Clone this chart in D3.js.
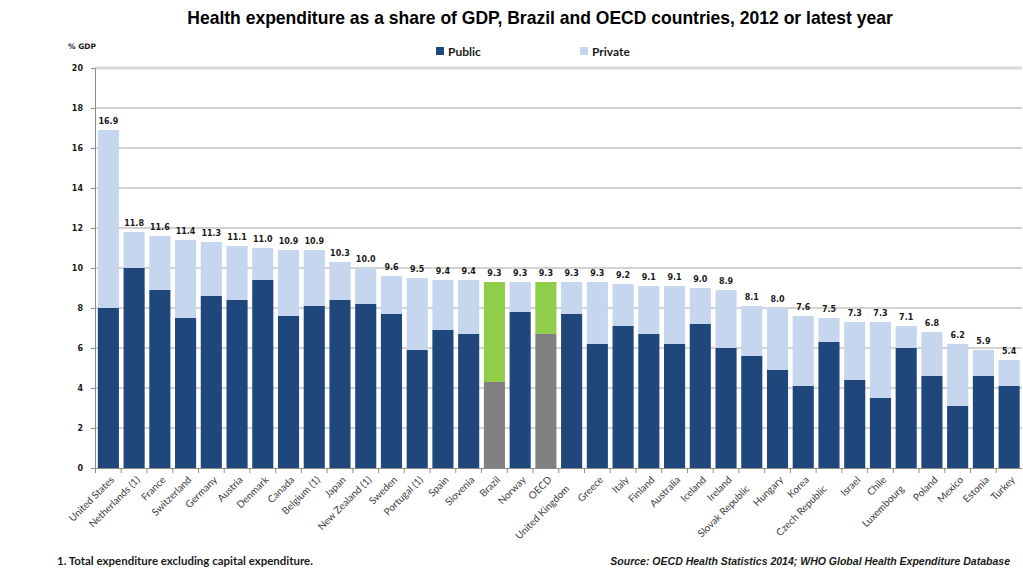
<!DOCTYPE html>
<html><head><meta charset="utf-8">
<script src="https://cdn.jsdelivr.net/npm/d3@7"></script>
<style>body{margin:0;background:#fff}svg{display:block}</style>
</head><body><svg id="c" width="1023" height="575"></svg>
<script>
const countries = ["United States","Netherlands (1)","France","Switzerland","Germany","Austria","Denmark","Canada","Belgium (1)","Japan","New Zealand (1)","Sweden","Portugal (1)","Spain","Slovenia","Brazil","Norway","OECD","United Kingdom","Greece","Italy","Finland","Australia","Iceland","Ireland","Slovak Republic","Hungary","Korea","Czech Republic","Israel","Chile","Luxembourg","Poland","Mexico","Estonia","Turkey"];
const totalValues = [16.9,11.8,11.6,11.4,11.3,11.1,11.0,10.9,10.9,10.3,10.0,9.6,9.5,9.4,9.4,9.3,9.3,9.3,9.3,9.3,9.2,9.1,9.1,9.0,8.9,8.1,8.0,7.6,7.5,7.3,7.3,7.1,6.8,6.2,5.9,5.4];
const publicValues = [8.0,10.0,8.9,7.5,8.6,8.4,9.4,7.6,8.1,8.4,8.2,7.7,5.9,6.9,6.7,4.3,7.8,6.7,7.7,6.2,7.1,6.7,6.2,7.2,6.0,5.6,4.9,4.1,6.3,4.4,3.5,6.0,4.6,3.1,4.6,4.1];
const highlighted = ["Brazil","OECD"];
const loweredLabels = ["United Kingdom","Slovak Republic","Czech Republic","Luxembourg"];
const yTicks = [0,2,4,6,8,10,12,14,16,18,20];
const seriesNames = ["Public","Private"];

const colors = {pub:"#1f477b", priv:"#c5d6ee", hpub:"#808080", hpriv:"#8fcd4a"};
const svg = d3.select("#c");
const x = d3.scaleBand().domain(countries).range([95.5,1022]).paddingInner(0.18).paddingOuter(0.09);
const y = d3.scaleLinear().domain([0,20]).range([468,68]);

function fitWidth(sel, size, target){
  const w = sel.node().getComputedTextLength();
  sel.attr("font-size",(size*target/w)+"px");
}

// gridlines
svg.append("g").selectAll("line").data(yTicks.filter(d=>d>0)).join("line")
  .attr("x1",95).attr("x2",1022).attr("y1",d=>y(d)).attr("y2",d=>y(d))
  .attr("stroke",d=>d===20?"#d9d9d9":"#a6a6a6").attr("stroke-width",d=>d===20?3:1);

// y axis
const ya = svg.append("g").attr("transform","translate(95,0)")
  .call(d3.axisLeft(y).tickValues(yTicks).tickSize(4).tickPadding(8));
ya.select(".domain").attr("stroke","#8c8c8c");
ya.selectAll(".tick line").attr("stroke","#8c8c8c");
ya.selectAll("text").attr("font-family","DejaVu Sans").attr("font-weight","bold").attr("font-size","8px").attr("fill","#1a1a1a");

const data = countries.map((c,i)=>({c, tot: totalValues[i], pub: publicValues[i], hl: highlighted.includes(c)}));

// bars
const g = svg.append("g");
g.selectAll("rect.priv").data(data).join("rect").attr("class","priv")
  .attr("x",d=>x(d.c)).attr("width",x.bandwidth())
  .attr("y",d=>y(d.tot)).attr("height",d=>y(d.pub)-y(d.tot))
  .attr("fill",d=>d.hl?colors.hpriv:colors.priv);
g.selectAll("rect.pub").data(data).join("rect").attr("class","pub")
  .attr("x",d=>x(d.c)).attr("width",x.bandwidth())
  .attr("y",d=>y(d.pub)).attr("height",d=>y(0)-y(d.pub))
  .attr("fill",d=>d.hl?colors.hpub:colors.pub);

// value labels
g.selectAll("text.val").data(data).join("text").attr("class","val")
  .attr("x",d=>x(d.c)+x.bandwidth()/2).attr("y",d=>y(d.tot)-6)
  .attr("text-anchor","middle").attr("font-family","DejaVu Sans").attr("font-weight","bold")
  .attr("font-size","8px").attr("fill","#1a1a1a").text(d=>d.tot.toFixed(1));

// x axis
svg.append("line").attr("x1",95).attr("x2",1022).attr("y1",468.5).attr("y2",468.5).attr("stroke","#8c8c8c");
const step = x.step();
svg.append("g").selectAll("line").data(countries).join("line")
  .attr("x1",d=>x(d)-step*0.09).attr("x2",d=>x(d)-step*0.09).attr("y1",468).attr("y2",473)
  .attr("stroke","#8c8c8c");
svg.append("g").selectAll("text").data(countries).join("text")
  .attr("transform",d=>{const lo=loweredLabels.includes(d);const cx=x(d)+x.bandwidth()/2+4-(lo?8:0);return `translate(${cx},${478+(lo?9:0)}) rotate(-45)`;})
  .attr("text-anchor","end").attr("dy","0.35em")
  .attr("font-family","Lato").attr("font-size","10px").attr("fill","#404040").text(d=>d);

// title
const t = svg.append("text").attr("x",540).attr("y",24).attr("text-anchor","middle")
  .attr("font-family","Liberation Sans").attr("font-weight","bold").attr("font-size","16px").attr("fill","#000")
  .text("Health expenditure as a share of GDP, Brazil and OECD countries, 2012 or latest year");
fitWidth(t,16,706);

svg.append("text").attr("x",68).attr("y",49).attr("font-family","DejaVu Sans").attr("font-weight","bold")
  .attr("font-size","7.5px").attr("fill","#1a1a1a").text("% GDP");

// legend
const leg = svg.append("g").selectAll("g").data(seriesNames).join("g")
  .attr("transform",(d,i)=>`translate(${i?580:436},47)`);
leg.append("rect").attr("width",8).attr("height",8).attr("fill",(d,i)=>i?colors.priv:colors.pub);
leg.append("text").attr("x",12).attr("y",8.5).attr("font-family","Lato").attr("font-weight","bold")
  .attr("font-size","12px").attr("fill","#1a1a1a").text(d=>d);

// footnotes
const f1 = svg.append("text").attr("x",57).attr("y",565).attr("font-family","Lato").attr("font-weight","bold")
  .attr("font-size","9px").attr("fill","#1a1a1a").text("1. Total expenditure excluding capital expenditure.");
fitWidth(f1,9,256);
const f2 = svg.append("text").attr("x",1010).attr("y",565).attr("text-anchor","end").attr("font-family","Liberation Sans")
  .attr("font-weight","bold").attr("font-style","italic").attr("font-size","9px").attr("fill","#1a1a1a")
  .text("Source: OECD Health Statistics 2014; WHO Global Health Expenditure Database");
fitWidth(f2,9,400);
</script></body></html>
